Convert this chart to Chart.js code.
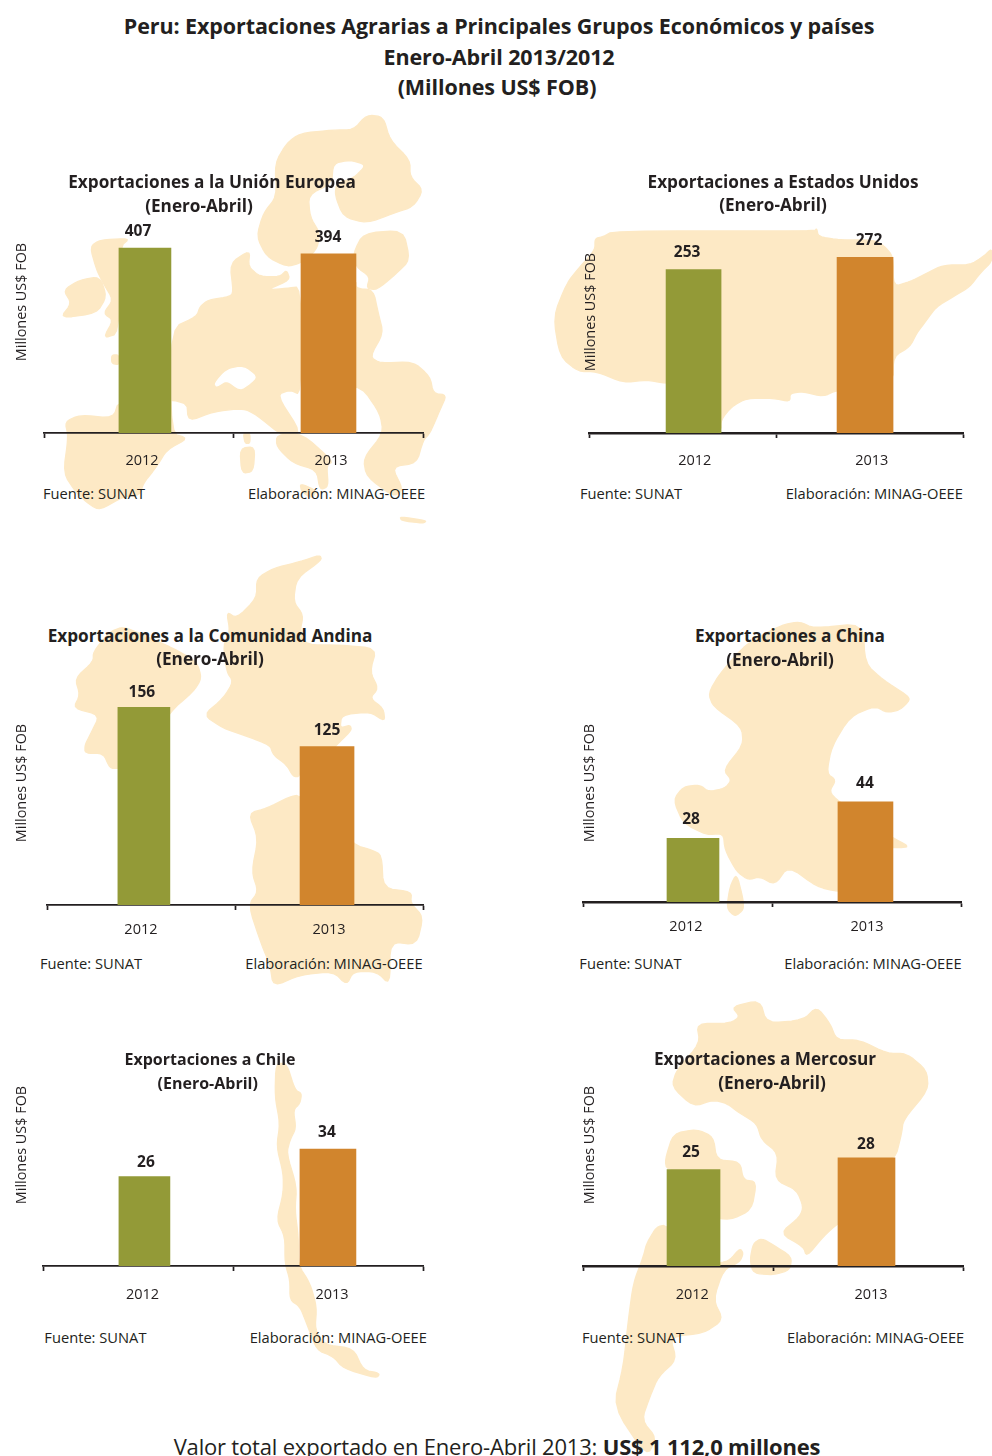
<!DOCTYPE html>
<html lang="es">
<head>
<meta charset="utf-8">
<title>Peru: Exportaciones Agrarias</title>
<script src="https://cdn.jsdelivr.net/npm/chart.js@4/dist/chart.umd.min.js"></script>
<style>
  html, body { margin: 0; padding: 0; background: #fff; }
  #page { position: relative; width: 992px; height: 1456px; overflow: hidden; color: #231f20; font-family: "Open Sans", sans-serif; }
  #maps { position: absolute; left: 0; top: 0; }
  canvas { position: absolute; }
  .t { position: absolute; white-space: nowrap; transform: translate(-50%, -50%); line-height: 1; }
  .head { font-weight: 700; font-size: 21.5px; letter-spacing: -0.09px; }
  .sub { font-weight: 700; font-size: 17.2px; }
  .small { font-size: 16px; }
  .src { font-size: 14.7px; transform: translate(0, -50%); }
  .yl { font-size: 14.4px; transform: translate(-50%, -50%) rotate(-90deg); }
  .foot { font-size: 22px; letter-spacing: -0.19px; }
</style>
</head>
<body>
<div id="page">
<svg id="maps" width="992" height="1456" viewBox="0 0 992 1456">
  <g fill="#fde9c5" stroke="#fde9c5" stroke-width="4" stroke-linejoin="round">
    <!-- Europa -->
    <g transform="translate(0,100) scale(0.3333)">
      <polygon points="195,965 240,945 340,955 357,900 560,900 565,965 640,935 730,925 770,945 850,1010 905,1000 830,885 870,870 903,885 903,560 860,565 800,570 870,540 860,510 840,530 780,530 745,500 750,450 690,490 700,575 690,590 625,600 600,620 590,650 513,685 513,1000 565,1015 500,1050 470,1100 430,1150 420,1185 370,1190 300,1230 270,1215 230,1180 190,1120 205,1010"/>
      <polygon points="903,560 1068,540 1068,565 1120,570 1135,640 1150,700 1110,770 1140,790 1240,785 1290,830 1300,880 1340,885 1320,930 1290,1000 1270,1020 1250,1090 1175,1100 1210,1170 1180,1190 1100,1130 1090,1075 1150,1000 1140,940 1085,860 1000,860 903,880"/>
      <polygon points="830,1005 905,1000 1000,1085 980,1095 985,1160 960,1170 950,1110 880,1090 830,1040"/>
      <polygon points="900,1150 950,1172 935,1195 905,1175"/>
      <polygon points="730,1000 750,1000 750,1030 735,1030"/>
      <polygon points="720,1045 765,1040 760,1115 725,1120"/>
      <polygon points="770,410 790,340 830,290 825,190 860,130 900,100 1000,90 1060,90 1100,45 1150,50 1170,120 1230,180 1230,230 1270,270 1240,320 1180,340 1100,370 1030,350 1005,285 1010,250 1060,235 1100,195 1050,180 1000,190 995,250 925,285 930,350 960,400 950,450 900,490 860,500 800,470"/>
      <polygon points="1090,400 1210,390 1230,480 1190,520 1130,570 1100,565 1110,530 1068,500 1060,460"/>
      <polygon points="270,440 300,420 390,415 360,440 357,700 310,715 340,660 310,640 340,600 310,550 290,510"/>
      <polygon points="190,570 240,540 300,530 320,590 290,640 180,655 215,610"/>
      <polygon points="335,765 357,765 357,795 335,790"/>
      <polygon points="1200,1250 1280,1262 1270,1270 1205,1262"/>
      <polygon fill="#fff" stroke="#fff" points="645,850 680,810 730,800 770,830 750,850 720,870 680,840 650,860"/>
    </g>
    <!-- Estados Unidos -->
    <g transform="translate(540,150) scale(0.3333)">
      <polygon points="220,243 825,243 830,235 835,260 900,270 1000,270 1030,285 1060,320 1060,410 1110,395 1160,370 1210,345 1290,345 1330,320 1356,295 1356,335 1320,370 1290,410 1240,440 1190,470 1160,510 1130,550 1110,590 1060,620 1060,700 891,720 850,740 790,725 750,730 750,755 700,745 620,745 575,770 543,810 543,845 430,845 430,700 378,700 320,690 250,698 170,665 115,665 60,620 40,500 80,400 120,350 165,300 165,265 190,260"/>
    </g>
    <!-- Comunidad Andina -->
    <g transform="translate(0,545) scale(0.3333)">
      <polygon points="280,320 330,260 370,245 430,270 520,310 590,350 605,400 580,440 510,500 400,670 355,670 330,670 310,625 255,625 255,600 270,570 300,510 220,490 240,450 225,400 280,350"/>
      <polygon points="960,30 965,45 890,100 880,170 910,210 900,260 920,300 1020,300 1130,310 1110,380 1135,430 1110,460 1150,490 1155,530 1110,500 1025,510 1020,550 1050,540 1055,555 1020,590 1000,610 905,610 900,695 880,695 860,660 820,630 810,600 730,570 670,550 610,510 670,460 700,410 680,380 670,300 690,260 680,200 710,220 770,160 770,100 820,70 900,50"/>
      <polygon points="745,805 800,790 870,755 900,750 1063,900 1115,915 1145,930 1150,1030 1235,1040 1232,1075 1270,1115 1250,1200 1170,1190 1170,1320 1130,1280 1060,1280 1040,1320 1000,1280 900,1290 820,1325 810,1260 785,1200 745,1080 775,1040 755,980 775,880"/>
    </g>
    <!-- China -->
    <g transform="translate(540,610) scale(0.3333)">
      <polygon points="725,45 780,35 820,55 970,40 975,160 1030,210 1100,255 1110,270 1080,300 1040,308 1005,288 930,320 875,410 860,490 888,510 868,545 894,573 1060,685 1100,705 1100,713 1000,712 1000,845 894,845 830,830 745,768 705,825 660,800 625,810 590,785 555,720 550,670 500,675 430,640 400,570 430,530 480,525 505,545 555,535 575,510 550,480 610,405 605,350 520,290 505,250 540,190 620,100"/>
      <polygon points="590,790 610,870 610,900 585,920 560,895 570,830"/>
    </g>
    <!-- Chile -->
    <g transform="translate(0,1030) scale(0.3333)">
      <polygon points="828,100 860,100 885,180 905,190 900,220 880,240 888,295 870,330 860,370 890,470 885,540 895,620 895,705 930,760 950,830 945,900 975,945 1060,955 1090,1020 1140,1030 1130,1045 1030,1015 1000,980 950,960 920,880 900,830 870,810 870,750 855,700 855,620 830,570 850,490 850,430 830,350 840,280 825,200"/>
    </g>
    <!-- Mercosur -->
    <g transform="translate(540,990) scale(0.3333)">
      <polygon points="470,100 570,100 600,80 575,50 660,30 680,100 790,90 830,50 870,100 890,150 960,150 1040,190 1100,190 1160,240 1165,300 1090,390 1085,430 1065,510 980,510 980,650 894,700 850,740 800,800 790,770 720,730 780,680 790,650 770,600 705,570 715,490 665,450 650,400 600,370 560,340 520,330 460,350 395,290 410,240 480,160"/>
      <polygon points="640,760 665,745 700,765 755,800 750,840 700,855 640,850 630,810"/>
      <polygon points="375,510 400,430 470,418 520,440 530,510 600,515 610,570 650,575 635,660 570,690 500,680 500,540 381,540"/>
      <polygon points="350,710 381,705 450,820 540,820 570,810 600,775 610,790 600,815 550,840 520,930 550,990 490,1030 390,1040 410,1110 355,1160 330,1220 305,1290 350,1345 320,1400 220,1250 250,1130 265,990 280,880 310,800 320,760"/>
    </g>
  </g>
</svg>
<div id="texts"></div>
</div>
<script>
const years = ['2012', '2013'];
const ueValues = [407, 394];
const usaValues = [253, 272];
const canValues = [156, 125];
const chinaValues = [28, 44];
const chileValues = [26, 34];
const mercosurValues = [25, 28];

const INK = '#231f20';
const OLIVE = '#939a37';
const ORANGE = '#d1852d';
const FONT = '"Open Sans", sans-serif';

// layout of each small chart: axis ranges, label nudges, text anchors
const panels = [
  { title: 'Exportaciones a la Unión Europea', values: ueValues, box: 0, left: 44, right: 423, base: 433, yMax: 506,
    xMin: -0.55, xMax: 1.515, tickAt: [-0.016, 1.014], barW: [52, 55], shift: [-7, -0.5], gap: [18, 18], tickPad: 14, axisW: 1.7,
    titleAt: [212, 182, 199, 206], yl: [21, 302], src: [43, 248, 492.5] },
  { title: 'Exportaciones a Estados Unidos', values: usaValues, box: 540, left: 589.3, right: 963.3, base: 432.7, yMax: 356,
    xMin: -0.608, xMax: 1.573, tickAt: [0.007, 1.039], barW: [55, 56], shift: [-6.5, 4], gap: [18, 18], tickPad: 14, axisW: 2.5,
    titleAt: [783, 182, 773, 205], yl: [590, 312], src: [580, 785.7, 492.5] },
  { title: 'Exportaciones a la Comunidad Andina', values: canValues, box: 0, left: 47, right: 423, base: 905, yMax: 181.5,
    xMin: -0.529, xMax: 1.524, tickAt: [-0.016, 1.011], barW: [52, 54], shift: [-2, 0], gap: [16, 18], tickPad: 11, axisW: 1.7,
    titleAt: [210, 636, 210, 659], yl: [21, 783], src: [40, 245.3, 962.5] },
  { title: 'Exportaciones a China', values: chinaValues, box: 540, left: 583.3, right: 961.7, base: 902, yMax: 101,
    xMin: -0.636, xMax: 1.558, tickAt: [-0.041, 1.009], barW: [52, 55], shift: [-2, -0.5], gap: [20, 20], tickPad: 11, axisW: 2.5,
    titleAt: [790, 636, 780, 660], yl: [589, 783], src: [579.3, 784.3, 962.5] },
  { title: 'Exportaciones a Chile', values: chileValues, box: 0, left: 43.3, right: 423, base: 1265.7, yMax: 66.9,
    xMin: -0.551, xMax: 1.518, tickAt: [-0.01, 1.022], barW: [51, 56], shift: [1.5, -1], gap: [16, 18], tickPad: 15, axisW: 1.7, small: true,
    titleAt: [210, 1059, 207.7, 1083], yl: [21, 1145], src: [44.3, 249.7, 1336.5] },
  { title: 'Exportaciones a Mercosur', values: mercosurValues, box: 540, left: 583, right: 963, base: 1266.3, yMax: 59.6,
    xMin: -0.639, xMax: 1.558, tickAt: [-0.007, 1.026], barW: [53, 57], shift: [-2.5, -0.5], gap: [18, 15], tickPad: 15, axisW: 2.5,
    titleAt: [765, 1059, 772, 1083], yl: [589, 1145], src: [582, 787, 1336.5] }
];

const page = document.getElementById('page');
const texts = document.getElementById('texts');

// round off the traced map outlines, the original shapes have no hard corners
function smoothPolygon(pg) {
  let pts = pg.getAttribute('points').trim().split(/\s+/).map(s => s.split(',').map(Number));
  for (let k = 0; k < 2; k++) {
    const out = [];
    pts.forEach((a, i) => {
      const b = pts[(i + 1) % pts.length];
      out.push([a[0] * 0.8 + b[0] * 0.2, a[1] * 0.8 + b[1] * 0.2]);
      out.push([a[0] * 0.2 + b[0] * 0.8, a[1] * 0.2 + b[1] * 0.8]);
    });
    pts = out;
  }
  pg.setAttribute('points', pts.map(p => p[0].toFixed(1) + ',' + p[1].toFixed(1)).join(' '));
}
document.querySelectorAll('#maps polygon').forEach(smoothPolygon);

function addText(str, cls, x, y) {
  const d = document.createElement('div');
  d.className = 't ' + cls;
  d.innerHTML = str;
  d.style.left = x + 'px';
  d.style.top = y + 'px';
  texts.appendChild(d);
}

addText('Peru: Exportaciones Agrarias a Principales Grupos Económicos y países', 'head', 499, 26);
addText('Enero-Abril 2013/2012', 'head', 499, 57);
addText('(Millones US$ FOB)', 'head', 497, 87);
addText('Valor total exportado en Enero-Abril 2013: <b>US$ 1 112,0 millones</b>', 'foot', 497, 1446);

// numbers over the bars, nudged a little off the bar centre like the original
const valueLabels = {
  id: 'valueLabels',
  afterDatasetsDraw(chart, args, opts) {
    const ctx = chart.ctx;
    ctx.save();
    ctx.font = 'bold 15.5px ' + FONT;
    ctx.fillStyle = INK;
    ctx.textAlign = 'center';
    ctx.textBaseline = 'middle';
    chart.data.datasets.forEach((ds, i) => {
      const el = chart.getDatasetMeta(i).data[0];
      ctx.fillText(String(ds.data[0].y), el.x + opts.shift[i], el.y - opts.gap[i] + 1.5);
    });
    ctx.restore();
  }
};

const AREA_H = 230, TOP_PAD = 20, AXIS_H = 40, CANVAS_W = 452;

panels.forEach(p => {
  const subCls = 'sub' + (p.small ? ' small' : '');
  addText(p.title, subCls, p.titleAt[0], p.titleAt[1]);
  addText('(Enero-Abril)', subCls, p.titleAt[2], p.titleAt[3]);
  addText('Millones US$ FOB', 'yl', p.yl[0], p.yl[1]);
  addText('Fuente: SUNAT', 'src', p.src[0], p.src[2]);
  addText('Elaboración: MINAG-OEEE', 'src', p.src[1], p.src[2]);

  const cv = document.createElement('canvas');
  cv.width = CANVAS_W;
  cv.height = TOP_PAD + AREA_H + AXIS_H;
  cv.style.left = p.box + 'px';
  cv.style.top = (p.base - AREA_H - TOP_PAD) + 'px';
  page.insertBefore(cv, texts);

  new Chart(cv, {
    type: 'bar',
    data: {
      datasets: years.map((y, i) => ({
        label: y,
        data: [{ x: i, y: p.values[i] }],
        backgroundColor: i ? ORANGE : OLIVE,
        barThickness: p.barW[i]
      }))
    },
    plugins: [valueLabels],
    options: {
      responsive: false,
      animation: false,
      layout: { padding: { left: p.left - p.box, right: p.box + CANVAS_W - p.right, top: TOP_PAD, bottom: 0 } },
      plugins: {
        legend: { display: false },
        tooltip: { enabled: false },
        valueLabels: { shift: p.shift, gap: p.gap }
      },
      scales: {
        x: {
          type: 'linear',
          stacked: true,
          offset: false,
          min: p.xMin,
          max: p.xMax,
          afterBuildTicks(scale) {
            const mid = (p.xMin + p.xMax) / 2;
            scale.ticks = [p.xMin, p.tickAt[0], mid, p.tickAt[1], p.xMax].map(value => ({ value }));
          },
          afterFit(scale) { scale.height = AXIS_H; },
          border: { display: true, color: INK, width: p.axisW },
          grid: {
            offset: false,
            drawOnChartArea: false,
            tickLength: 5,
            tickWidth: 1.7,
            tickColor: c => (c.index % 2 === 0 ? INK : 'rgba(0,0,0,0)')
          },
          ticks: {
            autoSkip: false,
            maxRotation: 0,
            padding: p.tickPad,
            color: INK,
            font: { family: FONT, size: 14.5 },
            callback: (v, i) => (i === 1 ? years[0] : i === 3 ? years[1] : '')
          }
        },
        y: { display: false, stacked: true, min: 0, max: p.yMax }
      }
    }
  });
});
</script>
</body>
</html>
